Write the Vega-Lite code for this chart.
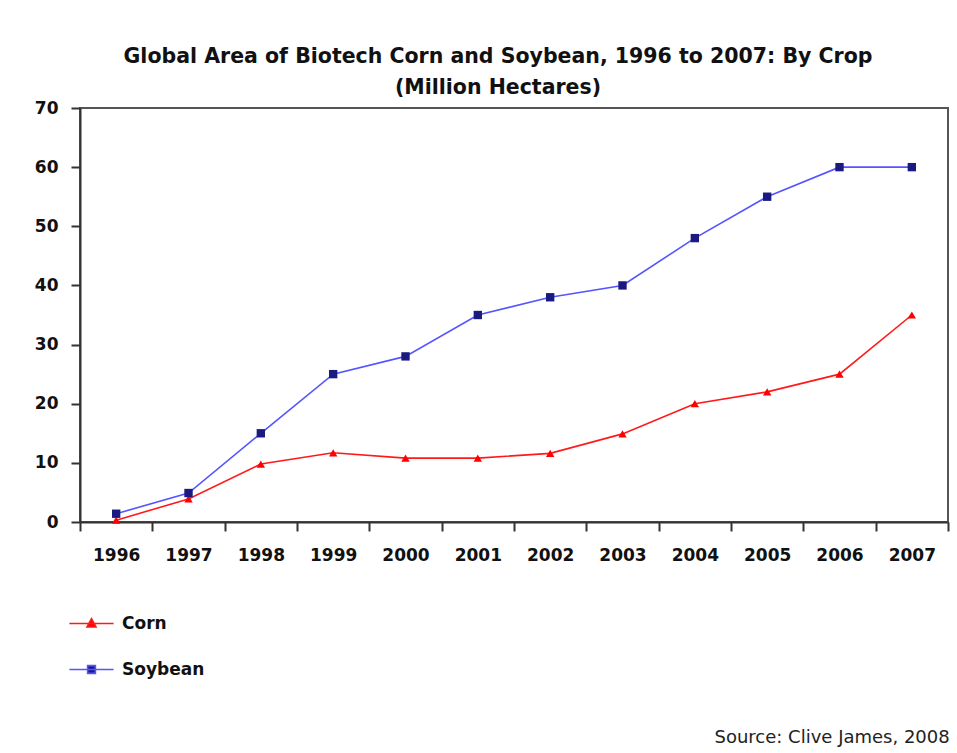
{
  "$schema": "https://vega.github.io/schema/vega-lite/v6.json",
  "autosize": "none",
  "padding": {"left": 80, "top": 108, "right": 9, "bottom": 231},
  "width": 868,
  "height": 414,
  "background": "white",
  "title": {
    "text": ["Global Area of Biotech Corn and Soybean, 1996 to 2007: By Crop", "(Million Hectares)"],
    "font": "DejaVu Sans",
    "fontSize": 20.5,
    "fontWeight": "bold",
    "color": "#111",
    "lineHeight": 31,
    "anchor": "middle",
    "dx": -16,
    "offset": 1
  },
  "data": {
    "values": [
      {"year": "1996", "crop": "Corn", "area": 0.3},
      {"year": "1997", "crop": "Corn", "area": 3.9},
      {"year": "1998", "crop": "Corn", "area": 9.8},
      {"year": "1999", "crop": "Corn", "area": 11.7},
      {"year": "2000", "crop": "Corn", "area": 10.8},
      {"year": "2001", "crop": "Corn", "area": 10.8},
      {"year": "2002", "crop": "Corn", "area": 11.6},
      {"year": "2003", "crop": "Corn", "area": 14.9},
      {"year": "2004", "crop": "Corn", "area": 20},
      {"year": "2005", "crop": "Corn", "area": 22},
      {"year": "2006", "crop": "Corn", "area": 25},
      {"year": "2007", "crop": "Corn", "area": 35},
      {"year": "1996", "crop": "Soybean", "area": 1.4},
      {"year": "1997", "crop": "Soybean", "area": 4.9},
      {"year": "1998", "crop": "Soybean", "area": 15},
      {"year": "1999", "crop": "Soybean", "area": 25},
      {"year": "2000", "crop": "Soybean", "area": 28},
      {"year": "2001", "crop": "Soybean", "area": 35},
      {"year": "2002", "crop": "Soybean", "area": 38},
      {"year": "2003", "crop": "Soybean", "area": 40},
      {"year": "2004", "crop": "Soybean", "area": 48},
      {"year": "2005", "crop": "Soybean", "area": 55},
      {"year": "2006", "crop": "Soybean", "area": 60},
      {"year": "2007", "crop": "Soybean", "area": 60}
    ]
  },
  "encoding": {
    "x": {
      "field": "year",
      "type": "nominal",
      "sort": null,
      "scale": {"type": "band", "paddingInner": 0, "paddingOuter": 0},
      "axis": {
        "labelAngle": 0,
        "tickBand": "extent",
        "labelFont": "DejaVu Sans",
        "labelFontSize": 17,
        "labelFontWeight": "bold",
        "labelColor": "#111",
        "labelPadding": 16,
        "tickSize": 9,
        "tickWidth": 2,
        "tickColor": "#333",
        "domainColor": "#333",
        "domainWidth": 2,
        "grid": false,
        "title": "Source: Clive James, 2008",
        "titleFont": "DejaVu Sans",
        "titleFontSize": 18,
        "titleFontWeight": "normal",
        "titleColor": "#222",
        "titleAnchor": "start",
        "titleAlign": "left",
        "titleBaseline": "middle",
        "titleX": 634,
        "titleY": 215
      }
    },
    "y": {
      "field": "area",
      "type": "quantitative",
      "scale": {"domain": [0, 70], "nice": false},
      "axis": {
        "values": [0, 10, 20, 30, 40, 50, 60, 70],
        "title": null,
        "grid": false,
        "labelFont": "DejaVu Sans",
        "labelFontSize": 17,
        "labelFontWeight": "bold",
        "labelColor": "#111",
        "labelPadding": 13,
        "tickSize": 9,
        "tickWidth": 2,
        "tickColor": "#333",
        "domainColor": "#333",
        "domainWidth": 2
      }
    }
  },
  "layer": [
    {
      "mark": {"type": "line", "strokeWidth": 1.6},
      "encoding": {
        "stroke": {
          "field": "crop",
          "type": "nominal",
          "scale": {"domain": ["Corn", "Soybean"], "range": ["#ff1a1a", "#5555ff"]},
          "legend": {
            "title": null,
            "orient": "none",
            "legendX": 2,
            "legendY": 506,
            "direction": "vertical",
            "symbolSize": 300,
            "symbolStrokeWidth": 1.6,
            "labelOffset": 21,
            "rowPadding": 28,
            "labelFont": "DejaVu Sans",
            "labelFontSize": 17,
            "labelFontWeight": "bold",
            "labelColor": "#111",
            "encode": {
              "symbols": {
                "update": {
                  "shape": {"signal": "datum.value === 'Corn' ? 'M-2.55,0H2.55M0,-0.55L0.52,0.4H-0.52Z' : 'M-2.55,0H2.55M-0.45,-0.45H0.45V0.45H-0.45Z'"},
                  "fill": {"signal": "datum.value === 'Corn' ? '#ff0000' : '#1a1a80'"},
                  "strokeWidth": {"value": 1.6}
                }
              }
            }
          }
        }
      }
    },
    {
      "transform": [{"filter": "datum.crop === 'Corn'"}],
      "mark": {"type": "point", "filled": true, "opacity": 1, "size": 70, "shape": "triangle-up", "color": "#ff0000"},
      "encoding": {}
    },
    {
      "transform": [{"filter": "datum.crop === 'Soybean'"}],
      "mark": {"type": "point", "filled": true, "opacity": 1, "size": 70, "shape": "square", "color": "#1a1a80"},
      "encoding": {}
    }
  ],
  "config": {
    "view": {"stroke": "#555", "strokeWidth": 2}
  }
}
